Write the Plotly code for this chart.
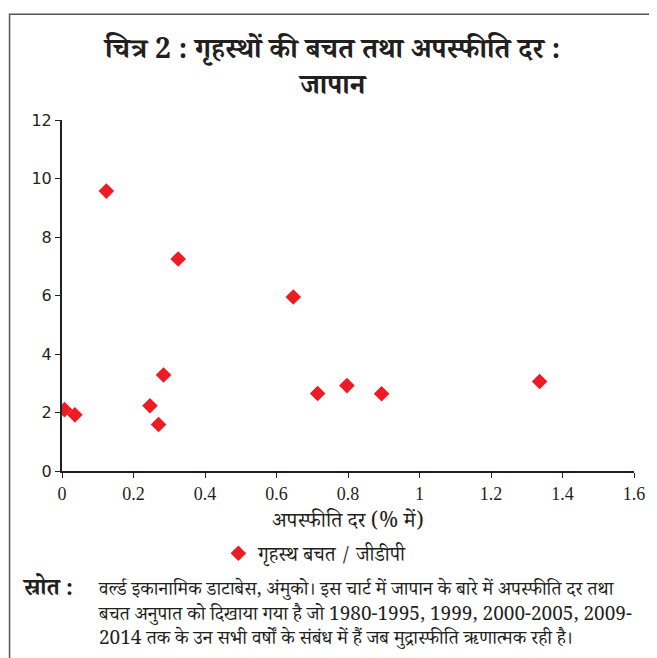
import plotly.graph_objects as go

# Data
deflation_rate = [0.007, 0.036, 0.124, 0.246, 0.270, 0.284, 0.325, 0.647, 0.715, 0.797, 0.894, 1.336]
savings_gdp = [2.10, 1.92, 9.57, 2.23, 1.59, 3.28, 7.25, 5.95, 2.65, 2.92, 2.64, 3.06]
x_ticks = [0, 0.2, 0.4, 0.6, 0.8, 1, 1.2, 1.4, 1.6]
x_tick_labels = ["0", "0.2", "0.4", "0.6", "0.8", "1", "1.2", "1.4", "1.6"]
y_ticks = [0, 2, 4, 6, 8, 10, 12]

title_lines = ["चित्र 2 : गृहस्थों की बचत तथा अपस्फीति दर :", "जापान"]
x_title = "अपस्फीति दर (% में)"
series_name = "गृहस्थ बचत / जीडीपी"
source_label = "स्रोत :"
source_lines = [
    "वर्ल्ड इकानामिक डाटाबेस, अंमुको। इस चार्ट में जापान के बारे में अपस्फीति दर तथा",
    "बचत अनुपात को दिखाया गया है जो 1980-1995, 1999, 2000-2005, 2009-",
    "2014 तक के उन सभी वर्षों के संबंध में हैं जब मुद्रास्फीति ऋणात्मक रही है।",
]

# page has an 8px body margin: work in page pixels, convert to figure pixels
OFF = 8
W, H = 657 - OFF, 658 - OFF
L, R, T, B = 61.5 - OFF, 634.0 - OFF, 119.8 - OFF, 470.8 - OFF

def px(x):
    return (x - OFF - L) / (R - L)

def py(y):
    return (B - (y - OFF)) / (B - T)

HINDI = "Noto Serif Devanagari, Noto Sans Devanagari, Lohit Devanagari, Liberation Serif, serif"
INK = "#231f20"

fig = go.Figure()
fig.add_trace(go.Scatter(
    x=deflation_rate, y=savings_gdp, mode="markers", name=series_name,
    marker=dict(symbol="diamond", size=12, color="#ED1C24"),
))

fig.update_layout(
    width=W, height=H,
    margin=dict(l=L, r=W - R, t=T, b=H - B),
    paper_bgcolor="white", plot_bgcolor="white",
    showlegend=True,
    legend=dict(orientation="h", x=px(218), y=py(553), xanchor="left", yanchor="middle",
                font=dict(family=HINDI, size=20, color=INK),
                itemwidth=30, bgcolor="rgba(0,0,0,0)"),
    xaxis=dict(range=[0, 1.6], tickvals=x_ticks, ticktext=x_tick_labels,
               showgrid=False, zeroline=False, showline=True, linecolor=INK, linewidth=2,
               ticks="outside", ticklen=5, tickcolor=INK,
               tickfont=dict(family="Liberation Serif", size=18, color=INK),
               title=dict(text=x_title, font=dict(family=HINDI, size=21, color=INK), standoff=10)),
    yaxis=dict(range=[0, 12], tickvals=y_ticks,
               showgrid=False, zeroline=False, showline=True, linecolor=INK, linewidth=2,
               ticks="outside", ticklen=5, tickcolor=INK,
               tickfont=dict(family="DejaVu Sans", size=16, color=INK)),
)

# Frame around the figure (left and top edges visible)
fig.add_shape(type="rect", xref="paper", yref="paper",
              x0=px(9), x1=px(680), y0=py(680), y1=py(14),
              line=dict(color="#555555", width=1.5), fillcolor="rgba(0,0,0,0)", layer="below")

# Title (two centred lines)
fig.add_annotation(text="<b>" + "<br>".join(title_lines) + "</b>", xref="paper", yref="paper",
                   x=px(331), y=py(72), showarrow=False, xanchor="center", yanchor="middle",
                   align="center", font=dict(family=HINDI, size=28, color=INK))

# Source note
fig.add_annotation(text="<b>" + source_label + "</b>", xref="paper", yref="paper",
                   x=px(19), y=py(591), showarrow=False, xanchor="left", yanchor="middle",
                   font=dict(family=HINDI, size=23, color=INK))
fig.add_annotation(text="<br>".join(source_lines), xref="paper", yref="paper",
                   x=px(96), y=py(616), showarrow=False, xanchor="left", yanchor="middle",
                   align="left", font=dict(family=HINDI, size=19, color=INK))

fig.write_html("out.html")
